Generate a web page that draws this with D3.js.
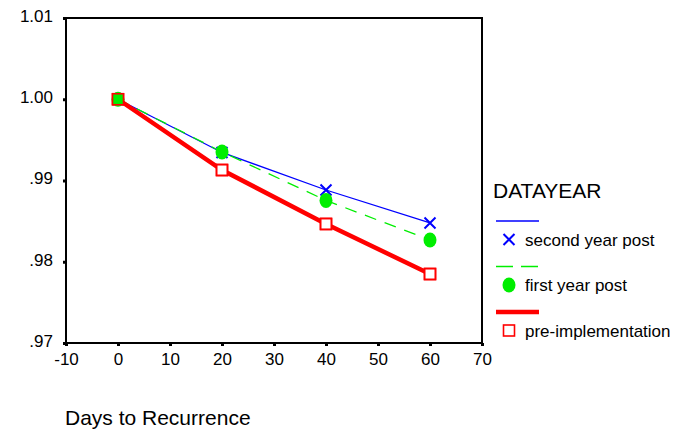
<!DOCTYPE html>
<html><head><meta charset="utf-8">
<script src="https://cdn.jsdelivr.net/npm/d3@7"></script>
<style>body{margin:0;background:#fff;}svg{font-family:Arial,"Liberation Sans",sans-serif;}</style>
</head><body><svg id="c" width="691" height="430"></svg>
<script>
const days = [0, 20, 40, 60];
const secondYearPost = [1.0, 0.99345, 0.98883, 0.98477];
const firstYearPost = [1.0, 0.99351, 0.98755, 0.98268];
const preImplementation = [1.0, 0.99129, 0.98465, 0.97849];
const xTicks = [-10, 0, 10, 20, 30, 40, 50, 60, 70];
const xTickLabels = ["-10", "0", "10", "20", "30", "40", "50", "60", "70"];
const yTicks = [0.97, 0.98, 0.99, 1.00, 1.01];
const yTickLabels = [".97", ".98", ".99", "1.00", "1.01"];
const seriesNames = ["second year post", "first year post", "pre-implementation"];

const svg = d3.select("#c");
const x = d3.scaleLinear().domain([-10, 70]).range([66, 482]);
const y = d3.scaleLinear().domain([0.97, 1.01]).range([343, 18]);

const series = [
  {name: seriesNames[0], values: secondYearPost, color: "#0000ff", width: 1.3, dash: null, marker: "x"},
  {name: seriesNames[1], values: firstYearPost, color: "#00ee00", width: 1.3, dash: "12,9", marker: "circle"},
  {name: seriesNames[2], values: preImplementation, color: "#ff0000", width: 4.5, dash: null, marker: "square"}
];

// frame
svg.append("rect").attr("x", 66).attr("y", 18).attr("width", 416).attr("height", 325)
  .attr("fill", "none").attr("stroke", "#000").attr("stroke-width", 2);

// axes
const xAxis = svg.append("g").attr("transform", "translate(0,343)")
  .call(d3.axisBottom(x).tickValues(xTicks).tickSize(3).tickPadding(7).tickFormat((d, i) => xTickLabels[i]));
const yAxis = svg.append("g").attr("transform", "translate(66,0)")
  .call(d3.axisLeft(y).tickValues(yTicks).tickSize(3).tickPadding(10).tickFormat((d, i) => yTickLabels[i]));
[xAxis, yAxis].forEach(g => {
  g.select(".domain").remove();
  g.selectAll(".tick line").attr("stroke", "#000").attr("stroke-width", 3);
  g.selectAll(".tick text").attr("font-size", 17).attr("fill", "#000")
    .attr("font-family", "Arial, 'Liberation Sans', sans-serif");
});
yAxis.selectAll(".tick text").attr("dy", "0.2em");

const line = d3.line().x((d, i) => x(days[i])).y(d => y(d));

function drawMarker(g, type, cx, cy, color, fill) {
  if (type === "x") {
    const s = 5.5;
    g.append("path").attr("d", `M${cx-s},${cy-s}L${cx+s},${cy+s}M${cx-s},${cy+s}L${cx+s},${cy-s}`)
      .attr("stroke", color).attr("stroke-width", 2).attr("fill", "none");
  } else if (type === "circle") {
    g.append("ellipse").attr("cx", cx).attr("cy", cy).attr("rx", 6.5).attr("ry", 7.5).attr("fill", color);
  } else {
    g.append("rect").attr("x", cx - 5.5).attr("y", cy - 5.5).attr("width", 11).attr("height", 11)
      .attr("fill", fill || "#fff").attr("stroke", color).attr("stroke-width", 1.6);
  }
}

// lines: blue, green, red on top
[0, 1, 2].forEach(k => {
  const s = series[k];
  svg.append("path").datum(s.values).attr("d", line).attr("fill", "none")
    .attr("stroke", s.color).attr("stroke-width", s.width)
    .attr("stroke-dasharray", s.dash);
});
// markers: blue x, red squares, green circles, red outlines
const mk = svg.append("g");
secondYearPost.forEach((v, i) => drawMarker(mk, "x", x(days[i]), y(v), series[0].color));
preImplementation.forEach((v, i) => drawMarker(mk, "square", x(days[i]), y(v), series[2].color, "#fff"));
firstYearPost.forEach((v, i) => drawMarker(mk, "circle", x(days[i]), y(v), series[1].color));
preImplementation.forEach((v, i) => drawMarker(mk, "square", x(days[i]), y(v), series[2].color, "none"));

// legend
const lg = svg.append("g");
lg.append("text").attr("x", 493).attr("y", 198).attr("font-size", 21).attr("fill", "#000").text("DATAYEAR");
series.forEach((s, i) => {
  const ly = 221 + i * 45.5;
  lg.append("line").attr("x1", 496).attr("x2", 539).attr("y1", ly).attr("y2", ly)
    .attr("stroke", s.color).attr("stroke-width", s.width > 2 ? 4.5 : 1.5)
    .attr("stroke-dasharray", s.dash ? "17,8" : null);
  drawMarker(lg, s.marker, 509, ly + 18.5, s.color);
  lg.append("text").attr("x", 525).attr("y", ly + 24.5).attr("font-size", 17).attr("fill", "#000").text(s.name);
});

svg.append("text").attr("x", 65).attr("y", 425).attr("font-size", 21).attr("fill", "#000").text("Days to Recurrence");
</script></body></html>
